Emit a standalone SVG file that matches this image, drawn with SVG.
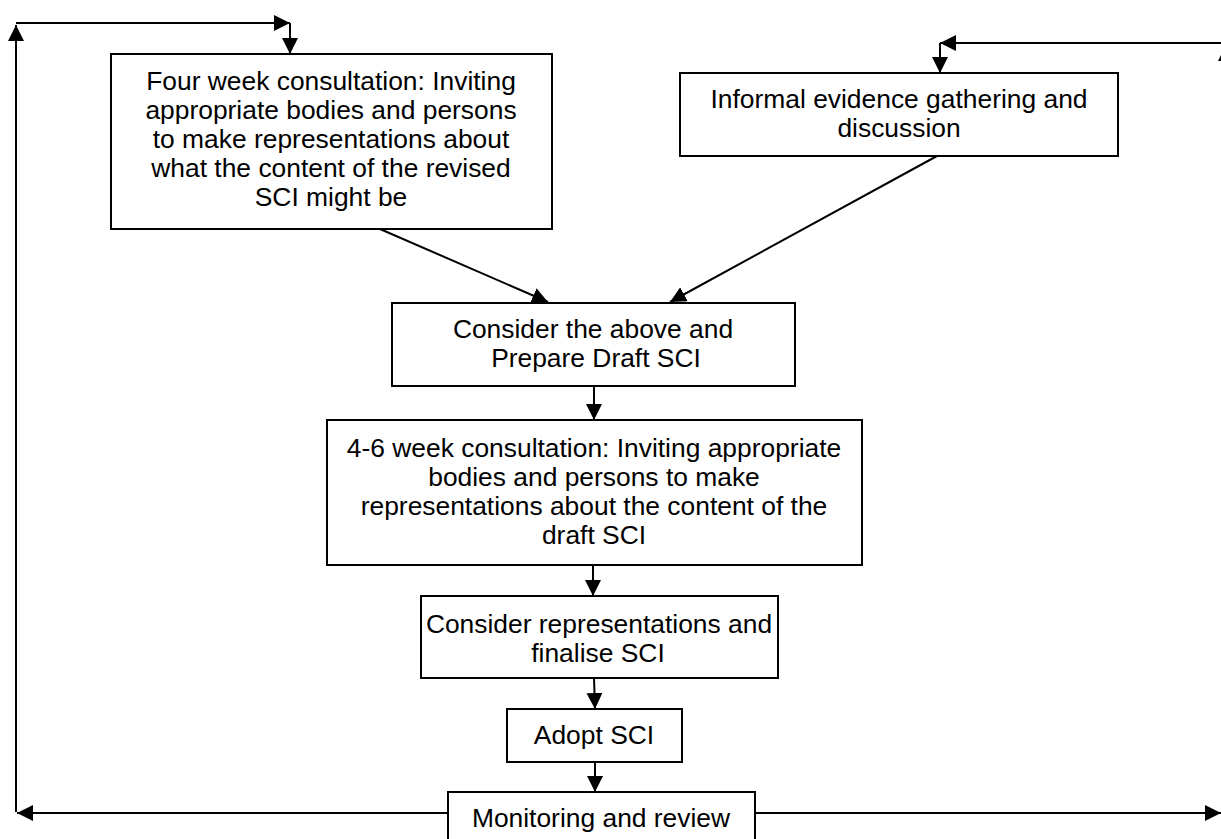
<svg xmlns="http://www.w3.org/2000/svg" width="1221" height="839" viewBox="0 0 1221 839">
<style>
.box{fill:#fff;stroke:#000;stroke-width:2}
.t{font-family:"Liberation Sans",Arial,sans-serif;font-size:26.4px;fill:#000;text-anchor:middle}
.c{fill:none;stroke:#000;stroke-width:2}
</style>
<defs>
<marker id="ah" markerUnits="userSpaceOnUse" markerWidth="16" markerHeight="16" refX="15" refY="7.5" orient="auto" viewBox="0 0 15 15">
<path d="M0,0 L15,7.5 L0,15 z" fill="#000"/>
</marker>
</defs>
<g id="connectors">
<path class="c" d="M16,812 L16,25" marker-end="url(#ah)"/>
<path class="c" d="M16,23 L290,23" marker-end="url(#ah)"/>
<path class="c" d="M290,23 L290,54" marker-end="url(#ah)"/>
<path class="c" d="M1235,43 L940,43" marker-end="url(#ah)"/>
<path class="c" d="M940,43 L940,73" marker-end="url(#ah)"/>
<path class="c" d="M1226,813 L1226,45" marker-end="url(#ah)"/>
<path class="c" d="M380,229 L548,302" marker-end="url(#ah)"/>
<path class="c" d="M937,156 L670,302" marker-end="url(#ah)"/>
<path class="c" d="M594,386 L594,420" marker-end="url(#ah)"/>
<path class="c" d="M593,565 L593,596" marker-end="url(#ah)"/>
<path class="c" d="M594,678 L595,709" marker-end="url(#ah)"/>
<path class="c" d="M595,762 L595,792" marker-end="url(#ah)"/>
<path class="c" d="M448,813 L17,813" marker-end="url(#ah)"/>
<path class="c" d="M755,813 L1221,813" marker-end="url(#ah)"/>
</g>
<g id="n1">
<rect class="box" x="111" y="54" width="441" height="175"/>
<text class="t" x="331" y="90">Four week consultation: Inviting</text>
<text class="t" x="331" y="119">appropriate bodies and persons</text>
<text class="t" x="331" y="148">to make representations about</text>
<text class="t" x="331" y="177">what the content of the revised</text>
<text class="t" x="331" y="206">SCI might be</text>
</g>
<g id="n2">
<rect class="box" x="680" y="73" width="438" height="83"/>
<text class="t" x="899" y="108">Informal evidence gathering and</text>
<text class="t" x="899" y="137">discussion</text>
</g>
<g id="n3">
<rect class="box" x="392" y="303" width="403" height="83"/>
<text class="t" x="593" y="338">Consider the above and</text>
<text class="t" x="596" y="367">Prepare Draft SCI</text>
</g>
<g id="n4">
<rect class="box" x="327" y="420" width="535" height="145"/>
<text class="t" x="594" y="457">4-6 week consultation: Inviting appropriate</text>
<text class="t" x="594" y="486">bodies and persons to make</text>
<text class="t" x="594" y="515">representations about the content of the</text>
<text class="t" x="594" y="544">draft SCI</text>
</g>
<g id="n5">
<rect class="box" x="421" y="596" width="357" height="82"/>
<text class="t" x="599" y="633">Consider representations and</text>
<text class="t" x="598" y="662">finalise SCI</text>
</g>
<g id="n6">
<rect class="box" x="507" y="709" width="175" height="53"/>
<text class="t" x="594" y="744">Adopt SCI</text>
</g>
<g id="n7">
<rect class="box" x="448" y="792" width="307" height="60"/>
<text class="t" x="601" y="827">Monitoring and review</text>
</g>
</svg>
